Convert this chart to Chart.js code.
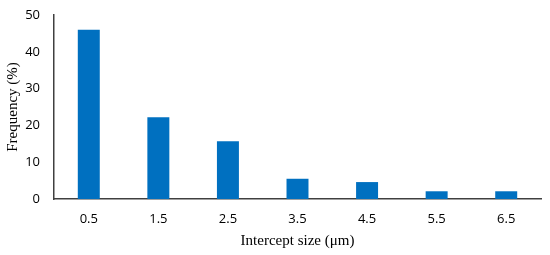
<!DOCTYPE html>
<html>
<head>
<meta charset="utf-8">
<script src="https://cdn.jsdelivr.net/npm/chart.js@4"></script>
<style>
  html, body { margin: 0; padding: 0; background: #fff; }
  #wrap { width: 550px; height: 255px; position: relative; }
</style>
</head>
<body>
<div id="wrap"><canvas id="freqChart"></canvas></div>
<script>
// intercept size bins (µm) and frequency (%)
const interceptSizes = ['0.5', '1.5', '2.5', '3.5', '4.5', '5.5', '6.5'];
const frequencies = [46, 22.2, 15.7, 5.5, 4.6, 2.1, 2.1];
const yTicks = [0, 10, 20, 30, 40, 50];

const tickFont = { family: "'Open Sans', 'Noto Sans', sans-serif", size: 13 };
const titleFont = { family: "'Liberation Serif', 'DejaVu Serif', serif", size: 15 };

const ctx = document.getElementById('freqChart').getContext('2d');
const freqChart = new Chart(ctx, {
    type: 'bar',
    data: {
        labels: interceptSizes,
        datasets: [{
            label: 'Frequency',
            data: frequencies,
            backgroundColor: '#0070c0',
            borderWidth: 0,
            barPercentage: 0.316,
            categoryPercentage: 1
        }]
    },
    options: {
        responsive: true,
        maintainAspectRatio: false,
        animation: false,
        layout: { padding: { top: 15, right: 9, left: 0, bottom: 0 } },
        plugins: { legend: { display: false }, tooltip: { enabled: false } },
        scales: {
            x: {
                grid: { display: false, drawTicks: false },
                border: { display: true, color: '#404040', width: 1.5 },
                ticks: { color: '#000', font: tickFont, padding: 12, maxRotation: 0 },
                title: { display: true, text: 'Intercept size (μm)', color: '#000', font: titleFont, padding: { top: 4, bottom: 5 } },
                afterFit: scale => { scale.height = 56; }
            },
            y: {
                min: 0,
                max: 50,
                afterBuildTicks: scale => { scale.ticks = yTicks.map(v => ({ value: v })); },
                grid: { display: false, drawTicks: false },
                border: { display: true, color: '#404040', width: 1.5 },
                ticks: { color: '#000', font: tickFont, padding: 14 },
                title: { display: true, text: 'Frequency (%)', color: '#000', font: titleFont, padding: { top: 4, bottom: 4 } },
                afterFit: scale => { scale.width = 54; scale.paddingTop = 0; }
            }
        }
    }
});
</script>
</body>
</html>
